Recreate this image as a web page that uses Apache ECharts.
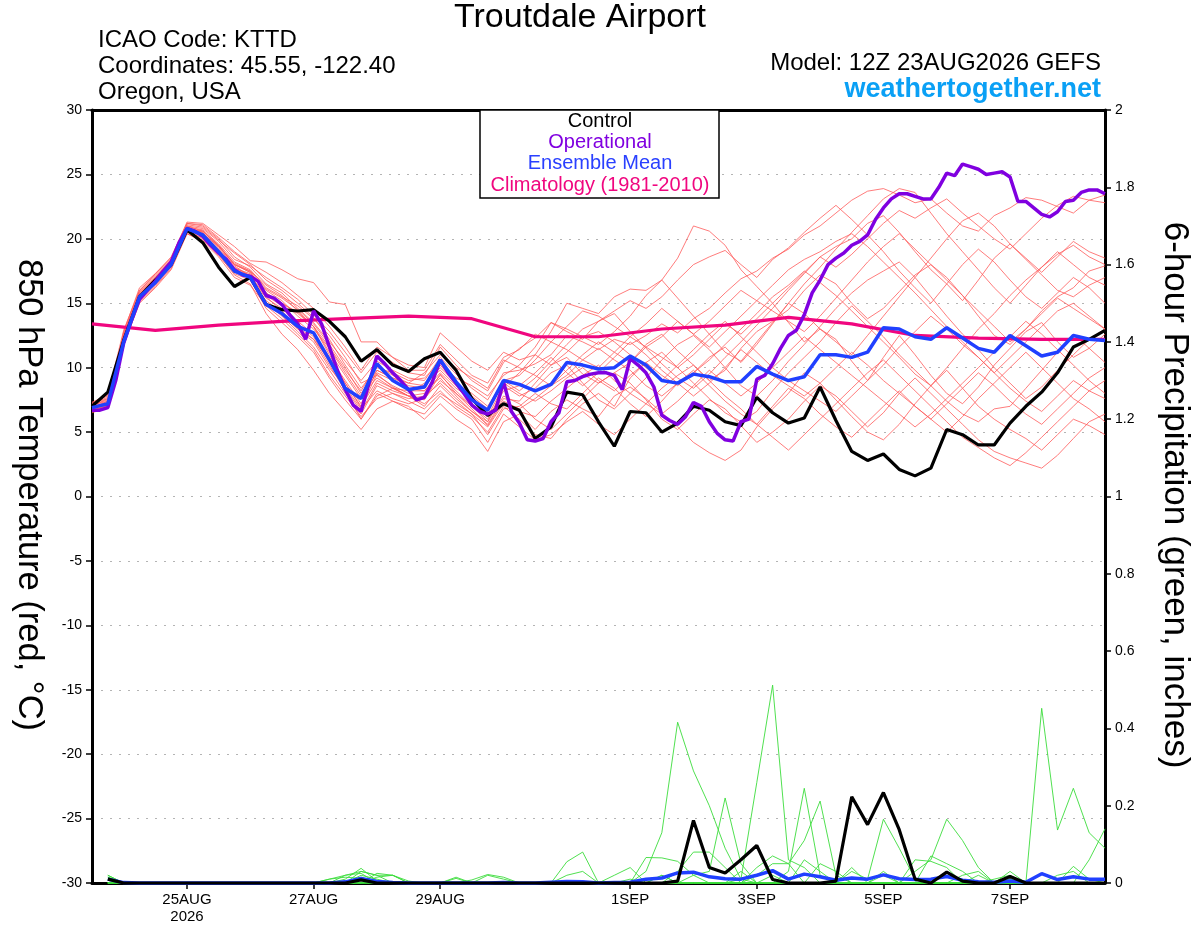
<!DOCTYPE html>
<html>
<head>
<meta charset="utf-8">
<script src="https://cdn.jsdelivr.net/npm/echarts@6/dist/echarts.min.js"></script>
<style>
html,body{margin:0;padding:0;background:#fff;}
#chart{width:1200px;height:927px;}
</style>
</head>
<body>
<div id="chart"></div>
<script>
// ---------------- DATA ----------------
// Time axis: hours after 12Z 23AUG2026
const tickHours = [36, 84, 132, 204, 252, 300, 348];
const tickLabels = ['25AUG\n2026', '27AUG', '29AUG', '1SEP', '3SEP', '5SEP', '7SEP'];
const ensStepHours = 6;   // ensemble output step
const opStepHours = 3;    // operational output step
const climStepHours = 24; // climatology step

// Control run 850 hPa temperature (6-hourly, 00h..384h)
const controlTemp = [7.0,8.1,12.1,15.5,16.8,18.0,20.7,19.7,17.8,16.3,17.0,
  14.9,14.5,14.4,14.5,13.6,12.4,10.5,11.4,10.2,9.7,10.7,11.2,
  9.8,7.6,6.3,7.2,6.7,4.5,5.4,8.1,7.9,5.8,3.9,6.6,6.5,5.0,5.7,7.0,6.7,5.8,5.5,7.7,6.5,
  5.7,6.1,8.5,5.9,3.5,2.8,3.3,2.1,1.6,2.2,5.2,4.8,4.0,4.0,5.7,7.0,8.1,9.6,11.6,12.2,12.9];

// Ensemble mean 850 hPa temperature (6-hourly)
const meanTemp = [6.9,7.2,12.0,15.5,16.6,18.0,20.8,20.3,19.0,17.5,17.0,
  14.9,14.2,13.2,12.7,10.6,8.4,7.6,10.3,9.0,8.3,8.5,10.6,
  8.9,7.5,6.7,9.0,8.7,8.2,8.7,10.4,10.2,9.9,10.0,10.9,10.2,9.0,8.8,9.5,9.3,8.9,8.9,10.1,9.5,
  9.0,9.3,11.0,11.0,10.8,11.2,13.1,13.0,12.4,12.2,13.1,12.3,11.5,11.2,12.5,11.7,10.9,11.2,12.5,12.2,12.1];

// Operational run 850 hPa temperature (3-hourly)
const opTemp = [
  6.7,6.7,6.9,9.0,11.9,13.7,15.3,16.0,16.7,17.5,
  18.2,19.7,20.8,20.6,20.2,19.5,18.9,18.4,17.6,17.2,
  17.1,16.7,15.6,15.4,14.9,14.1,13.4,12.2,14.4,13.4,
  11.6,9.8,8.3,7.1,6.6,8.8,10.9,10.3,9.6,9.0,
  8.3,7.5,7.7,8.9,10.6,9.6,8.8,8.0,7.1,6.6,
  6.4,6.7,8.9,6.6,5.7,4.4,4.3,4.5,5.8,6.5,
  8.9,9.0,9.3,9.5,9.6,9.6,9.4,8.3,10.7,10.2,
  9.6,8.5,6.3,5.9,5.6,6.2,7.3,7.0,5.8,4.9,
  4.4,4.3,5.8,6.0,9.1,9.4,10.3,11.5,12.5,12.9,
  14.1,15.8,16.8,18.0,18.5,18.9,19.5,19.8,20.3,21.5,
  22.4,23.1,23.5,23.5,23.3,23.1,23.1,24.0,25.1,24.9,
  25.8,25.6,25.4,25.0,25.1,25.2,24.8,22.9,22.9,22.4,
  21.9,21.7,22.1,22.9,23.0,23.6,23.8,23.8,23.5];

// Climatology (1981-2010), daily at 12Z
const climTemp = [13.4,12.9,13.3,13.6,13.8,14.0,13.8,12.4,12.4,13.0,13.3,13.9,13.4,12.5,12.3,12.2,12.2];

// Ensemble members 850 hPa temperature (6-hourly)
const memberTemps = [
 [7.0,7.2,12.5,15.9,17.1,18.3,21.2,21.0,20.0,18.6,17.8, 16.5,15.8,14.6,13.5,12.0,10.5,9.0,10.5,9.8,9.2,9.0,10.8, 9.5,8.4,7.5,9.6,9.8,10.3,11.0,12.5,12.0,11.4,12.2,11.8,12.5,13.4,12.7,13.8,14.6,15.8,16.9,17.5,18.5, 19.2,20.3,21.0,22.0,23.0,23.7,23.9,23.4,22.8,23.1,22.0,21.0,20.6,21.8,22.4,23.2,23.0,22.5,22.0,23.0,23.4],
 [6.8,7.0,11.9,15.3,16.5,17.9,20.6,20.6,19.5,18.0,17.4, 15.8,15.0,14.3,13.2,11.0,8.8,6.9,9.5,8.5,7.8,7.5,9.5, 8.0,7.0,5.8,8.5,9.6,11.0,12.8,15.0,14.6,14.2,15.5,16.1,16.0,16.8,18.5,21.0,20.6,19.5,17.6,16.3,15.0, 13.5,12.0,13.0,12.2,10.5,9.0,10.8,12.5,11.0,9.4,8.0,7.2,8.5,10.2,11.5,12.8,13.5,12.0,10.8,11.5,12.6],
 [6.6,7.1,12.8,16.2,17.3,18.5,21.3,21.2,20.3,19.4,18.3, 18.2,17.6,16.9,16.6,15.1,14.9,12.0,12.0,10.8,10.2,10.0,12.7, 11.6,10.5,9.8,11.2,10.6,11.0,10.2,10.8,9.5,8.8,9.6,10.4,11.8,12.6,11.3,10.2,9.0,9.8,11.5,12.8,13.6, 14.5,16.0,17.2,16.5,15.0,13.8,14.6,15.9,17.2,18.0,17.0,15.6,14.0,12.5,11.8,13.0,14.4,15.5,16.2,17.5,17.9],
 [7.2,7.6,11.8,15.0,16.2,17.6,20.4,19.9,18.8,17.2,16.5, 14.2,12.6,11.4,9.8,8.0,6.6,5.2,6.8,7.4,7.0,6.0,7.2, 6.0,5.2,3.5,5.8,6.4,5.2,6.6,7.5,6.8,6.2,7.8,8.5,7.6,6.5,5.4,4.2,3.4,2.8,3.6,5.4,6.8, 8.0,9.6,8.8,7.5,6.2,5.0,4.4,5.6,7.2,8.6,9.8,8.4,7.0,6.0,5.2,4.5,3.6,4.8,6.0,5.5,4.8],
 [6.9,7.4,12.3,15.7,16.9,18.2,20.9,20.7,19.6,18.2,17.6, 16.2,15.5,14.8,13.8,12.5,10.8,8.8,9.4,8.6,8.0,8.8,9.8, 8.6,7.8,6.8,9.0,8.2,9.2,10.5,11.8,13.0,13.6,14.2,12.8,11.5,10.3,9.2,8.4,9.5,10.8,12.0,13.3,14.6, 16.0,17.3,18.6,19.4,20.0,21.2,21.8,20.5,19.0,17.6,16.5,15.2,16.8,18.5,19.6,18.4,17.2,16.0,15.5,16.4,17.0],
 [6.7,7.0,12.0,15.4,16.6,18.0,20.7,20.2,19.0,17.6,17.0, 15.0,14.0,12.8,11.6,9.8,8.0,6.4,8.6,8.0,7.6,7.8,8.8, 7.6,6.6,5.8,7.8,7.2,6.0,5.2,6.4,7.6,8.8,9.6,8.8,7.5,6.0,5.2,6.4,7.5,6.8,5.5,4.2,5.0, 6.0,7.4,8.6,7.8,6.6,5.4,6.5,8.0,9.2,8.0,6.8,5.6,4.4,3.5,3.0,2.6,2.2,3.2,4.5,5.8,6.4],
 [7.1,7.5,12.6,15.8,17.0,18.4,21.0,20.8,19.8,18.4,17.9, 17.0,16.2,15.3,14.1,12.8,11.2,9.6,11.2,10.4,9.6,9.4,11.6, 10.2,9.0,8.2,10.4,11.5,12.3,13.5,12.8,12.2,13.6,14.4,15.2,14.6,15.5,16.8,18.0,18.6,19.1,18.0,17.0,18.4, 19.3,20.5,21.6,22.6,21.5,20.3,19.0,17.5,16.2,15.0,16.5,18.0,19.2,18.2,16.8,15.5,14.6,15.8,17.0,16.2,15.0],
 [6.8,7.2,12.1,15.5,16.7,18.1,20.8,20.5,19.3,17.9,17.1, 15.6,14.8,13.6,12.6,10.8,9.0,7.2,9.8,9.2,8.6,8.4,10.2, 8.8,7.2,6.2,8.6,7.8,8.4,9.6,10.2,8.8,7.5,6.8,8.0,9.2,10.6,11.8,12.5,11.4,10.0,8.6,7.8,9.0, 10.5,11.8,13.2,14.6,15.8,16.8,17.5,18.2,17.0,15.5,14.0,12.6,11.4,10.0,8.8,7.6,8.5,9.8,11.0,12.2,13.0],
 [7.3,7.8,12.4,15.6,16.8,18.0,20.6,20.0,18.7,17.3,16.8, 14.6,13.5,12.4,11.2,9.2,7.5,6.0,7.8,8.4,7.8,7.2,8.2, 7.0,6.2,5.0,7.0,6.0,4.8,4.5,6.0,7.2,8.0,7.0,9.2,10.4,11.2,10.0,8.8,7.6,6.5,5.8,6.6,8.2, 9.6,10.8,12.0,13.5,14.8,13.6,12.4,11.0,9.8,8.6,7.4,6.4,5.8,6.8,7.0,8.4,9.8,11.2,12.6,11.5,10.4],
 [6.5,6.9,12.2,15.6,16.9,18.3,21.1,20.9,19.9,18.9,18.0, 16.8,16.0,15.0,13.9,12.2,10.2,8.4,10.0,9.6,9.0,9.2,10.4, 9.2,8.6,7.8,9.4,10.2,11.6,13.5,13.0,12.4,11.8,12.8,14.0,15.6,16.8,15.4,14.0,12.6,11.2,10.5,12.0,13.5, 15.0,14.2,13.0,12.0,11.0,12.5,14.0,15.5,17.0,18.5,20.0,21.4,22.0,21.0,19.6,18.5,17.4,18.6,19.8,19.0,18.5],
 [7.0,7.3,11.9,15.2,16.4,17.8,20.5,20.1,18.9,17.5,16.9, 15.2,14.3,13.0,12.0,10.0,8.5,6.8,8.2,7.6,7.2,7.6,9.0, 8.0,6.8,5.5,7.4,6.8,7.6,8.6,9.4,10.6,11.5,10.6,9.8,8.6,7.8,8.8,9.6,10.6,11.8,13.0,14.2,15.5, 16.4,17.5,16.6,15.6,14.4,13.2,12.0,10.8,9.5,8.6,10.0,11.5,13.0,14.2,15.6,16.8,17.8,18.8,19.5,18.6,18.0],
 [6.6,7.0,12.4,15.8,17.0,18.2,20.9,20.4,19.2,17.7,17.3, 16.0,15.2,14.0,13.0,11.5,9.6,7.8,9.2,8.4,7.8,7.0,8.6, 7.4,6.4,4.8,6.8,7.0,8.0,7.2,6.8,8.0,9.2,8.4,7.2,6.2,7.4,8.8,9.8,8.6,7.4,6.4,5.6,7.0, 8.4,7.6,6.4,5.4,4.6,5.8,7.0,8.2,7.0,6.0,5.0,6.2,7.6,8.8,10.0,11.2,10.0,8.8,7.6,6.8,5.8],
 [7.1,7.4,12.7,16.0,17.2,18.4,21.0,20.6,19.4,18.1,17.5, 16.4,15.6,14.4,13.2,11.6,9.8,8.2,10.2,9.4,8.8,9.6,11.0, 10.0,9.2,8.4,10.6,10.0,9.4,8.6,9.8,11.0,12.0,11.2,10.4,11.6,12.4,13.6,12.6,11.6,12.8,14.0,15.2,16.4, 17.6,18.4,19.0,19.8,20.4,19.4,18.2,17.0,15.8,14.5,13.2,12.0,10.8,9.6,10.8,12.0,13.2,14.4,15.0,14.0,13.0],
 [6.9,7.2,12.0,15.3,16.5,17.9,20.7,20.3,19.1,17.5,17.0, 15.4,14.6,13.4,12.4,10.4,8.4,6.6,8.8,8.2,7.8,8.0,9.4, 8.2,7.0,6.0,8.2,8.6,9.6,10.8,9.6,8.6,9.6,10.8,12.0,11.0,9.8,8.8,7.8,8.8,10.0,11.4,10.4,9.4, 8.6,7.8,8.8,10.0,11.2,10.2,9.0,8.0,7.0,6.0,7.2,8.4,9.6,8.6,7.4,6.4,5.6,6.8,8.0,9.2,10.0],
 [6.7,7.1,12.3,15.6,16.8,18.0,20.8,20.6,19.5,18.0,17.4, 15.8,15.0,14.2,13.2,11.2,9.4,7.6,9.6,9.0,8.4,8.2,9.6, 8.4,7.6,6.6,8.8,8.0,7.4,8.2,9.2,10.0,9.0,8.2,9.4,10.4,9.4,8.6,9.6,10.8,11.6,10.4,11.8,13.4, 15.0,16.5,17.8,19.2,20.5,21.8,23.1,23.9,23.6,22.0,20.4,19.0,17.6,16.2,15.0,16.4,17.8,19.0,18.0,17.0,16.4],
 [7.2,7.7,12.5,15.7,16.9,18.3,20.9,20.5,19.0,17.6,17.2, 15.0,14.1,13.0,12.2,10.2,8.2,6.0,8.0,7.4,6.8,6.4,7.8, 6.8,6.0,4.2,6.4,5.4,4.4,4.8,5.8,6.6,5.6,4.8,6.0,7.2,8.4,9.4,10.2,9.0,7.8,6.8,5.6,4.6, 3.6,4.8,6.0,7.2,8.4,9.6,10.6,9.4,8.2,7.0,5.8,4.6,3.8,3.0,2.4,3.4,4.6,5.8,7.0,8.2,9.0],
 [6.8,7.3,12.2,15.5,16.7,18.1,20.8,20.4,19.4,18.0,17.5, 16.1,15.4,14.5,13.4,11.8,10.0,8.0,9.8,9.2,8.8,8.6,10.0, 8.8,8.0,7.0,9.0,9.4,10.6,12.0,11.4,10.6,10.0,11.2,12.4,11.6,10.8,10.0,11.0,12.2,13.4,12.6,13.8,15.0, 16.2,17.4,18.6,17.8,18.8,20.0,21.2,22.2,21.6,22.4,23.1,22.0,21.0,20.0,19.2,20.4,21.6,22.6,23.3,23.0,22.8],
 [7.0,7.6,12.1,15.4,16.6,17.9,20.6,20.2,19.0,17.8,17.1, 15.5,14.4,13.2,12.2,10.6,8.8,7.0,9.0,8.4,8.2,8.2,9.2, 7.8,6.6,5.6,7.6,7.4,8.8,10.2,11.2,12.4,12.8,12.0,11.0,10.0,9.0,10.2,11.4,12.6,13.6,12.4,11.2,10.0, 9.0,8.2,7.4,6.6,7.8,9.0,10.2,11.6,12.8,14.0,13.0,11.8,10.8,9.6,8.4,7.4,6.6,7.8,9.0,8.2,7.6],
 [6.6,6.9,11.7,15.1,16.3,17.7,20.4,19.8,18.6,17.0,16.4, 14.8,13.8,12.6,11.4,9.4,7.8,6.2,7.6,8.0,7.4,6.8,8.0, 7.2,6.4,5.4,7.2,6.6,6.2,7.4,8.4,9.4,10.2,9.0,8.0,7.2,6.4,7.4,8.6,9.8,8.8,7.8,8.8,10.0, 11.2,12.4,11.4,10.4,9.4,8.4,7.4,6.4,5.4,6.4,7.6,8.8,10.0,11.2,12.4,13.6,12.6,11.4,10.2,9.0,8.0],
 [7.3,7.9,12.9,16.0,17.3,18.6,21.2,21.1,20.1,19.0,18.1, 17.4,16.6,15.6,14.6,13.2,11.6,9.8,11.6,10.8,9.8,9.8,11.8, 10.6,9.4,8.8,10.8,11.4,12.6,12.0,13.2,14.4,14.0,13.2,12.4,13.4,14.6,13.6,12.6,13.6,14.8,16.0,15.2,14.4, 13.6,12.8,14.0,15.4,16.8,18.2,19.4,20.4,19.2,18.0,16.8,15.6,14.4,13.2,12.0,13.0,14.2,15.4,14.6,13.8,13.0]
];

// 6-hour precipitation (inches), 6-hourly from 06h..384h
const controlPrecip = [0.01,0,0,0,0,0,0,0,0,0,
  0,0,0,0,0,0,0.008,0,0,0,0,0,
  0,0,0,0,0,0,0,0,0,0,0,0,0,0,0.005,0.162,0.04,0.026,0.06,0.097,0.009,
  0,0,0,0.005,0.223,0.151,0.234,0.138,0.01,0,0.028,0.005,0,0,0.017,0,0,0,0,0,0];
const meanPrecip = [0.01,0.001,0,0,0,0,0,0,0,0,
  0,0,0,0,0,0.003,0.012,0.004,0.001,0,0,0,
  0,0,0,0.001,0,0,0.002,0.004,0.003,0,0.001,0.002,0.01,0.013,0.026,0.028,0.016,0.011,0.01,0.02,0.032,
  0.01,0.023,0.016,0.007,0.013,0.01,0.021,0.011,0.009,0.01,0.017,0.007,0.003,0.002,0.005,0.002,0.024,0.009,0.016,0.01,0.01];
const memberPrecips = [
 [0.02,0,0,0,0,0,0,0,0,0, 0,0,0,0,0,0.01,0.038,0.005,0,0,0,0, 0,0,0,0,0,0,0,0,0,0,0,0,0.03,0.13,0.416,0.29,0.2,0.09,0.01,0,0, 0,0,0,0,0,0,0,0,0,0,0,0,0,0,0,0,0,0,0,0,0],
 [0.015,0,0,0,0,0,0,0,0,0, 0,0,0,0,0,0,0.02,0.01,0,0,0,0, 0,0,0,0,0,0,0,0,0,0,0,0,0,0,0,0,0,0,0.01,0.26,0.512, 0.06,0.04,0,0,0,0,0,0,0,0,0,0,0.02,0,0,0,0,0,0,0,0],
 [0,0,0,0,0,0,0,0,0,0, 0,0,0,0,0.01,0.015,0.012,0,0,0,0,0, 0,0,0,0,0,0,0,0,0,0,0,0,0,0,0,0.02,0.03,0.22,0.05,0,0, 0,0,0,0,0,0,0,0,0,0,0,0,0,0,0,0,0,0,0,0,0],
 [0,0,0,0,0,0,0,0,0,0, 0,0,0,0,0,0,0.03,0.02,0,0,0,0, 0,0,0,0,0,0,0,0,0,0,0,0,0,0,0,0,0,0,0,0,0, 0.03,0.245,0.02,0,0,0,0.02,0,0,0,0,0,0,0,0,0,0,0,0,0,0],
 [0.01,0,0,0,0,0,0,0,0,0, 0,0,0,0,0,0,0,0,0,0,0,0, 0,0,0,0,0,0,0,0,0,0,0,0,0,0,0,0,0,0,0,0.02,0.05, 0.05,0.11,0.212,0.02,0,0,0,0,0,0,0,0,0,0,0,0,0,0,0,0,0],
 [0,0,0,0,0,0,0,0,0,0, 0,0,0,0,0,0,0,0.015,0.02,0.005,0,0, 0,0,0,0,0,0,0,0,0,0,0,0,0,0,0,0,0,0,0,0,0, 0,0,0,0,0.03,0.01,0.165,0.09,0.01,0,0,0,0,0,0,0,0,0,0,0,0],
 [0,0,0,0,0,0,0,0,0,0, 0,0,0,0,0,0,0,0,0,0,0,0, 0.012,0,0.02,0.01,0,0,0,0,0,0,0,0,0,0,0,0,0,0,0,0,0, 0,0,0,0,0,0,0,0,0.03,0.06,0.165,0.11,0.04,0,0,0,0,0,0,0,0],
 [0,0,0,0,0,0,0,0,0,0, 0,0,0,0,0,0,0,0,0,0,0,0, 0,0,0,0,0,0,0,0.02,0.03,0,0,0,0,0,0,0,0,0,0,0,0, 0,0,0,0,0,0,0,0,0,0,0,0,0,0,0,0,0.452,0.137,0.245,0.13,0.09],
 [0,0,0,0,0,0,0,0,0,0, 0,0,0,0,0,0,0,0,0,0,0,0, 0,0,0,0,0,0,0,0,0,0,0,0,0,0.02,0,0,0,0,0,0,0, 0,0,0,0,0,0,0,0,0,0,0,0,0,0,0.01,0,0,0,0,0.06,0.14],
 [0,0,0,0,0,0,0,0,0,0, 0,0,0,0,0,0,0,0,0,0,0,0, 0,0,0,0,0,0,0,0.055,0.08,0,0,0,0,0,0,0,0,0,0,0,0, 0,0,0,0,0,0,0,0,0,0.07,0.05,0.03,0,0,0,0,0,0,0,0,0],
 [0,0,0,0,0,0,0,0,0,0, 0,0,0,0,0,0,0,0,0,0,0,0, 0,0,0,0,0,0,0,0,0,0,0,0,0,0,0.03,0.08,0.08,0.04,0,0,0, 0,0,0,0,0,0,0,0,0,0,0,0,0,0,0.03,0,0,0,0,0,0],
 [0,0,0,0,0,0,0,0,0,0, 0,0,0,0,0,0,0,0,0,0,0,0, 0,0,0,0,0,0,0,0,0,0,0,0,0.066,0.065,0.056,0.02,0,0,0,0,0, 0,0,0.05,0.03,0,0,0,0,0,0,0,0,0,0,0,0,0,0,0,0,0],
 [0,0,0,0,0,0,0,0,0,0, 0,0,0,0,0,0,0,0,0,0,0,0, 0,0.008,0.022,0.015,0,0,0,0,0,0,0.02,0.04,0,0,0,0,0,0,0,0,0, 0,0,0,0,0,0,0,0,0.06,0.056,0.04,0,0,0,0,0,0,0,0,0,0],
 [0,0,0,0,0,0,0,0,0,0, 0,0,0,0,0,0.02,0.03,0.02,0.02,0,0,0, 0,0,0,0,0,0,0,0,0,0,0,0,0,0,0,0,0,0,0,0.04,0.07, 0.05,0,0,0,0,0,0,0,0,0,0,0,0,0,0,0,0,0,0,0,0],
 [0,0,0,0,0,0,0,0,0,0, 0,0,0,0,0.01,0.02,0.025,0,0,0,0,0, 0,0,0,0,0,0,0,0,0,0,0,0,0,0,0,0,0,0,0,0,0, 0,0,0,0,0.04,0,0,0,0,0,0,0.02,0.03,0,0,0,0,0,0.043,0.01,0],
 [0.015,0,0,0,0,0,0,0,0,0, 0,0,0,0,0,0,0.015,0,0,0,0,0, 0.015,0,0,0,0,0,0,0,0,0,0,0,0,0,0,0,0,0,0,0,0.02, 0,0,0,0,0,0,0,0,0,0,0,0,0,0.01,0.02,0,0,0,0,0,0],
 [0,0,0,0,0,0,0,0,0,0, 0,0,0,0,0,0,0,0.025,0.02,0,0,0, 0,0,0,0,0,0,0,0,0,0,0,0,0,0.02,0,0,0,0,0,0,0, 0,0.06,0.03,0,0,0,0,0,0,0,0,0,0,0,0,0,0,0.02,0.03,0,0],
 [0.02,0,0,0,0,0,0,0,0,0, 0,0,0,0,0,0,0,0,0,0,0,0, 0,0,0,0,0,0,0,0,0,0,0,0.01,0,0,0,0,0,0,0.03,0,0, 0,0,0,0,0,0,0.03,0,0,0,0,0,0,0,0,0,0,0,0,0,0]
];

// ---------------- CHART ----------------
const FONT = '"Liberation Sans", Arial, Helvetica, sans-serif';
const chart = echarts.init(document.getElementById('chart'), null, {renderer: 'canvas'});

const toPairs = (arr, step, offset) => arr.map((v, i) => [(i + offset) * step, v]);
const series = [];
const base = {type: 'line', symbol: 'none', silent: true, animation: false, emphasis: {disabled: true}};

memberTemps.forEach(m => series.push(Object.assign({}, base, {
  data: toPairs(m, ensStepHours, 0), z: 1,
  lineStyle: {color: '#ff5a5a', width: 0.8}
})));
memberPrecips.forEach(m => series.push(Object.assign({}, base, {
  data: toPairs(m, ensStepHours, 1), yAxisIndex: 1, z: 1,
  lineStyle: {color: '#3cdc3c', width: 0.9}
})));
series.push(Object.assign({}, base, {data: toPairs(climTemp, climStepHours, 0), z: 3,
  lineStyle: {color: '#f0067f', width: 3.2}}));
series.push(Object.assign({}, base, {data: toPairs(meanPrecip, ensStepHours, 1), yAxisIndex: 1, z: 3,
  lineStyle: {color: '#2040ff', width: 3.5}}));
series.push(Object.assign({}, base, {data: toPairs(controlPrecip, ensStepHours, 1), yAxisIndex: 1, z: 4,
  lineStyle: {color: '#000', width: 3.2}}));
series.push(Object.assign({}, base, {data: toPairs(controlTemp, ensStepHours, 0), z: 4,
  lineStyle: {color: '#000', width: 3.2}}));
series.push(Object.assign({}, base, {data: toPairs(opTemp, opStepHours, 0), z: 5,
  lineStyle: {color: '#8000e0', width: 3.5}}));
series.push(Object.assign({}, base, {data: toPairs(meanTemp, ensStepHours, 0), z: 6,
  lineStyle: {color: '#2040ff', width: 3.5}}));

const labelFor = v => {
  const k = tickHours.indexOf(Math.round(v));
  return k >= 0 ? tickLabels[k] : '';
};

const axisLineStyle = {show: true, onZero: false, lineStyle: {color: '#000', width: 3}};

const txt = (text, x, y, size, color, align, weight, rot) => ({
  type: 'text', x: x, y: y, rotation: rot || 0, z: 100,
  style: {text: text, fill: color, font: (weight || 'normal') + ' ' + size + 'px ' + FONT,
    align: align, textAlign: align, verticalAlign: 'middle', textVerticalAlign: 'middle'}
});

const option = {
  backgroundColor: '#ffffff',
  animation: false,
  grid: {left: 92, right: 95, top: 110, bottom: 44, containLabel: false},
  xAxis: [{
    type: 'value', min: 0, max: 384,
    axisLine: axisLineStyle,
    axisTick: {show: true, customValues: tickHours, length: 6, lineStyle: {color: '#000', width: 1.5}},
    axisLabel: {show: true, customValues: tickHours, formatter: labelFor, color: '#000', fontSize: 15,
      fontFamily: FONT, margin: 8, lineHeight: 17, hideOverlap: false},
    splitLine: {show: false}
  }, {
    type: 'value', position: 'top', min: 0, max: 384,
    axisLine: axisLineStyle, axisTick: {show: false}, axisLabel: {show: false}, splitLine: {show: false}
  }],
  yAxis: [{
    type: 'value', position: 'left', min: -30, max: 30, interval: 5,
    axisLine: axisLineStyle,
    axisTick: {show: true, length: 6, lineStyle: {color: '#000', width: 1.5}},
    axisLabel: {color: '#000', fontSize: 14, fontFamily: FONT, margin: 10},
    splitLine: {show: true, lineStyle: {color: '#b4b4b4', type: [2, 7], width: 1.2}}
  }, {
    type: 'value', position: 'right', min: 0, max: 2, interval: 0.2,
    axisLine: axisLineStyle,
    axisTick: {show: true, length: 6, lineStyle: {color: '#000', width: 1.5}},
    axisLabel: {color: '#000', fontSize: 14, fontFamily: FONT, margin: 10},
    splitLine: {show: false}
  }],
  series: series,
  graphic: [
    txt('Troutdale Airport', 580, 18, 34, '#000', 'center'),
    txt('ICAO Code: KTTD', 98, 40, 24, '#000', 'left'),
    txt('Coordinates: 45.55, -122.40', 98, 66, 24, '#000', 'left'),
    txt('Oregon, USA', 98, 92, 24, '#000', 'left'),
    txt('Model: 12Z 23AUG2026 GEFS', 1101, 63, 24, '#000', 'right'),
    txt('weathertogether.net', 1101, 90, 27, '#0aa0f5', 'right', 'bold'),
    {type: 'rect', z: 99, shape: {x: 480, y: 110, width: 239, height: 88},
      style: {fill: '#fff', stroke: '#000', lineWidth: 1.5}},
    txt('Control', 600, 121, 20, '#000', 'center'),
    txt('Operational', 600, 142, 20, '#8000e0', 'center'),
    txt('Ensemble Mean', 600, 163, 20, '#2a40ff', 'center'),
    txt('Climatology (1981-2010)', 600, 185, 20, '#f0067f', 'center'),
    txt('850 hPa Temperature (red, \u00B0C)', 29, 495, 34.5, '#000', 'center', 'normal', -Math.PI / 2),
    txt('6-hour Precipitation (green, inches)', 1175, 495, 35, '#000', 'center', 'normal', -Math.PI / 2)
  ]
};
chart.setOption(option);
</script>
</body>
</html>
